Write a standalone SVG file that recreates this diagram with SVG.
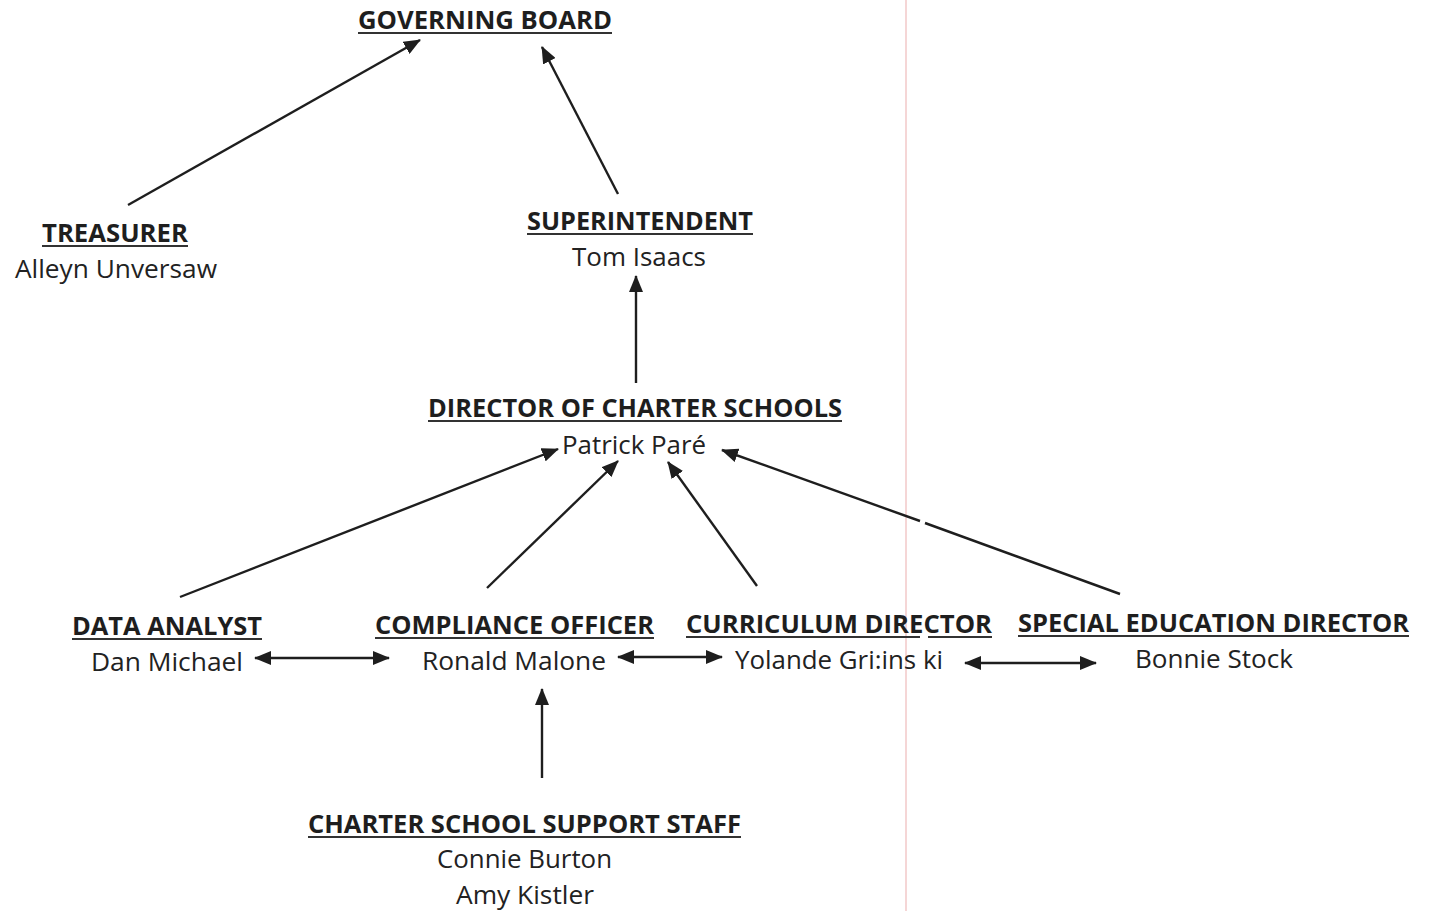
<svg xmlns="http://www.w3.org/2000/svg" width="1433" height="911" viewBox="0 0 1433 911">
<defs>
<marker id="ah" markerUnits="userSpaceOnUse" markerWidth="18" markerHeight="14" refX="16" refY="7" orient="auto-start-reverse">
<path d="M0,0 L17,7 L0,14 z" fill="#1e1e1e"/>
</marker>
<style>
.t{font-family:"Open Sans","Liberation Sans",sans-serif;font-size:25px;fill:#222;text-anchor:start}
.b{font-weight:bold;fill:#1e1e1e}
.u{stroke:#333;stroke-width:2}
.c{stroke:#1e1e1e;stroke-width:2.4;fill:none}
</style>
</defs>
<rect width="1433" height="911" fill="#ffffff"/>
<line x1="906" y1="0" x2="906" y2="911" stroke="#f2c9c9" stroke-width="1.5"/>

<g id="connectors">
<line class="c" x1="128" y1="205" x2="420" y2="40" marker-end="url(#ah)"/>
<line class="c" x1="618" y1="194" x2="542" y2="47" marker-end="url(#ah)"/>
<line class="c" x1="636" y1="383" x2="636" y2="276" marker-end="url(#ah)"/>
<line class="c" x1="180" y1="597" x2="558" y2="449" marker-end="url(#ah)"/>
<line class="c" x1="487" y1="588" x2="618" y2="461" marker-end="url(#ah)"/>
<line class="c" x1="757" y1="586" x2="668" y2="462" marker-end="url(#ah)"/>
<line class="c" x1="1120" y1="594" x2="925" y2="523"/>
<line class="c" x1="920" y1="521" x2="722" y2="450" marker-end="url(#ah)"/>
<line class="c" x1="255" y1="658" x2="389" y2="658" marker-start="url(#ah)" marker-end="url(#ah)"/>
<line class="c" x1="618" y1="657" x2="722" y2="657" marker-start="url(#ah)" marker-end="url(#ah)"/>
<line class="c" x1="965" y1="663" x2="1096" y2="663" marker-start="url(#ah)" marker-end="url(#ah)"/>
<line class="c" x1="542" y1="778" x2="542" y2="689" marker-end="url(#ah)"/>
</g>

<g id="governing-board">
<text class="t b" x="358" y="29" textLength="254" lengthAdjust="spacingAndGlyphs">GOVERNING BOARD</text>
<line class="u" x1="358" y1="33" x2="612" y2="33"/>
</g>

<g id="treasurer">
<text class="t b" x="42" y="242" textLength="146" lengthAdjust="spacingAndGlyphs">TREASURER</text>
<line class="u" x1="42" y1="246" x2="188" y2="246"/>
<text class="t" x="15" y="278" textLength="202" lengthAdjust="spacingAndGlyphs">Alleyn Unversaw</text>
</g>

<g id="superintendent">
<text class="t b" x="527" y="230" textLength="226" lengthAdjust="spacingAndGlyphs">SUPERINTENDENT</text>
<line class="u" x1="527" y1="234" x2="753" y2="234"/>
<text class="t" x="572" y="266" textLength="134" lengthAdjust="spacingAndGlyphs">Tom Isaacs</text>
</g>

<g id="director">
<text class="t b" x="428" y="417" textLength="414" lengthAdjust="spacingAndGlyphs">DIRECTOR OF CHARTER SCHOOLS</text>
<line class="u" x1="428" y1="421" x2="842" y2="421"/>
<text class="t" x="562" y="454" textLength="144" lengthAdjust="spacingAndGlyphs">Patrick Paré</text>
</g>

<g id="data-analyst">
<text class="t b" x="72" y="635" textLength="190" lengthAdjust="spacingAndGlyphs">DATA ANALYST</text>
<line class="u" x1="72" y1="639" x2="262" y2="639"/>
<text class="t" x="91" y="671" textLength="152" lengthAdjust="spacingAndGlyphs">Dan Michael</text>
</g>

<g id="compliance-officer">
<text class="t b" x="375" y="634" textLength="279" lengthAdjust="spacingAndGlyphs">COMPLIANCE OFFICER</text>
<line class="u" x1="375" y1="638" x2="654" y2="638"/>
<text class="t" x="422" y="670" textLength="184" lengthAdjust="spacingAndGlyphs">Ronald Malone</text>
</g>

<g id="curriculum-director">
<text class="t b" x="686" y="633" textLength="306" lengthAdjust="spacingAndGlyphs">CURRICULUM DIRECTOR</text>
<line class="u" x1="686" y1="637" x2="920" y2="637"/>
<line class="u" x1="928" y1="637" x2="992" y2="637"/>
<text class="t" x="735" y="669" textLength="208" lengthAdjust="spacingAndGlyphs">Yolande Gri:ins ki</text>
</g>

<g id="special-education-director">
<text class="t b" x="1018" y="632" textLength="391" lengthAdjust="spacingAndGlyphs">SPECIAL EDUCATION DIRECTOR</text>
<line class="u" x1="1018" y1="636" x2="1409" y2="636"/>
<text class="t" x="1135" y="668" textLength="158" lengthAdjust="spacingAndGlyphs">Bonnie Stock</text>
</g>

<g id="support-staff">
<text class="t b" x="308" y="833" textLength="433" lengthAdjust="spacingAndGlyphs">CHARTER SCHOOL SUPPORT STAFF</text>
<line class="u" x1="308" y1="837" x2="741" y2="837"/>
<text class="t" x="437" y="868" textLength="175" lengthAdjust="spacingAndGlyphs">Connie Burton</text>
<text class="t" x="456" y="904" textLength="138" lengthAdjust="spacingAndGlyphs">Amy Kistler</text>
</g>
</svg>
